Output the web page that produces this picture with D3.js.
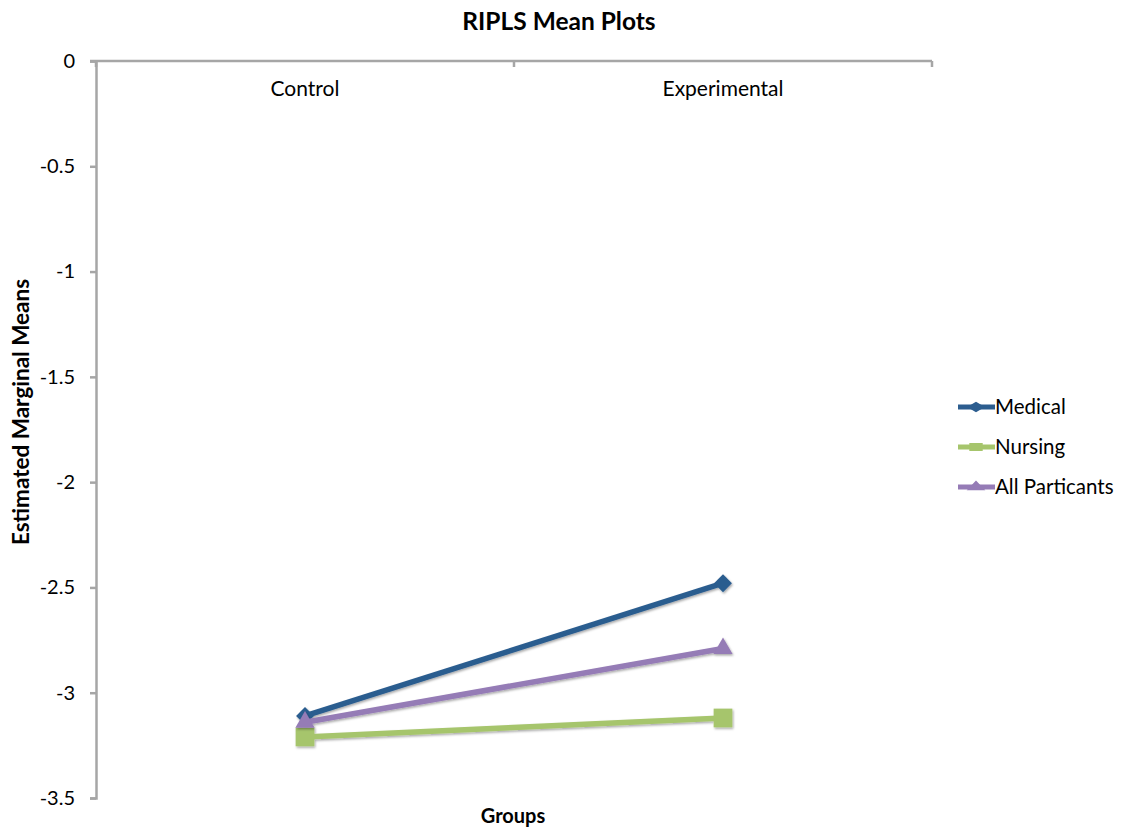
<!DOCTYPE html>
<html>
<head>
<meta charset="utf-8">
<script src="https://cdn.jsdelivr.net/npm/d3@7"></script>
<style>
  html, body { margin: 0; padding: 0; background: #fff; }
  svg { display: block; font-family: Lato, "Open Sans", "Liberation Sans", sans-serif; }
</style>
</head>
<body>
<svg id="chart" width="1125" height="831"></svg>
<script>
// Groups along the x axis
const groups = ["Control", "Experimental"];

// Estimated marginal means per series
const medical = [-3.11, -2.48];
const nursing = [-3.21, -3.12];
const allParticipants = [-3.14, -2.79];

// Y axis tick values
const yTicks = [0, -0.5, -1, -1.5, -2, -2.5, -3, -3.5];

const seriesNames = ["Medical", "Nursing", "All Particants"];
const seriesValues = [medical, nursing, allParticipants];
const seriesColors = ["#2C5D8F", "#A6C56C", "#957BB6"];

// marker shapes: rotated square (diamond), square, triangle
const markerDefs = [
  { type: d3.symbolSquare, size: 160, legendSize: 160, rotate: 45 },
  { type: d3.symbolSquare, size: 350, legendSize: 180, rotate: 0 },
  { type: d3.symbolTriangle, size: 160, legendSize: 150, rotate: 0 }
];

const svg = d3.select("#chart");
const plotLeft = 96, plotRight = 932, plotTop = 61, plotBottom = 798;

const x = d3.scaleBand().domain(groups).range([plotLeft, plotRight]);
const y = d3.scaleLinear().domain([0, -3.5]).range([plotTop, plotBottom]);

// soft drop shadow on the data marks
const defs = svg.append("defs");
const f = defs.append("filter").attr("id", "shadow")
  .attr("x", "-20%").attr("y", "-20%").attr("width", "140%").attr("height", "140%");
f.append("feDropShadow").attr("dx", 1).attr("dy", 1.5).attr("stdDeviation", 1.2)
  .attr("flood-color", "#000").attr("flood-opacity", 0.35);

const axisColor = "#A6A6A6";

// Y axis
const yAxis = svg.append("g").attr("transform", `translate(${plotLeft},0)`)
  .call(d3.axisLeft(y).tickValues(yTicks).tickSize(6).tickPadding(15)
    .tickFormat(d => String(d)));
yAxis.select(".domain").attr("stroke", axisColor).attr("stroke-width", 2.5);
yAxis.selectAll(".tick line").attr("stroke", axisColor).attr("stroke-width", 2.5);
yAxis.selectAll(".tick text").attr("fill", "#000").style("font-size", "20px")
  .style("font-family", "Lato, 'Open Sans', sans-serif");

// X axis at the top (value 0), with tick marks between categories
const xAxisG = svg.append("g").attr("transform", `translate(0,${plotTop})`);
xAxisG.append("line").attr("x1", plotLeft - 6).attr("x2", plotRight).attr("y1", 0).attr("y2", 0)
  .attr("stroke", axisColor).attr("stroke-width", 2.5);
const boundaries = [plotLeft, x(groups[1]), plotRight];
xAxisG.selectAll("line.tk").data(boundaries).enter().append("line").attr("class", "tk")
  .attr("x1", d => d).attr("x2", d => d).attr("y1", 0).attr("y2", 6)
  .attr("stroke", axisColor).attr("stroke-width", 2.5);
xAxisG.selectAll("text").data(groups).enter().append("text")
  .attr("x", d => x(d) + x.bandwidth() / 2).attr("y", 35)
  .attr("text-anchor", "middle").style("font-size", "21px").attr("fill", "#000")
  .text(d => d);

// Series lines and markers
const cx = d => x(d) + x.bandwidth() / 2;
const line = d3.line().x((v, i) => cx(groups[i])).y(v => y(v));

// green at the bottom, then blue, then purple on top
const order = [1, 0, 2];
order.forEach(si => {
  const m = markerDefs[si];
  const g = svg.append("g").attr("filter", "url(#shadow)");
  g.append("path").datum(seriesValues[si]).attr("d", line)
    .attr("fill", "none").attr("stroke", seriesColors[si]).attr("stroke-width", 5.5);
  g.selectAll("path.m").data(seriesValues[si]).enter().append("path").attr("class", "m")
    .attr("transform", (v, i) => `translate(${cx(groups[i])},${y(v)}) rotate(${m.rotate})`)
    .attr("d", d3.symbol().type(m.type).size(m.size))
    .attr("fill", seriesColors[si]);
});

// Title
svg.append("text").attr("x", 559).attr("y", 30).attr("text-anchor", "middle")
  .style("font-size", "24.5px").style("font-weight", "bold").text("RIPLS Mean Plots");

// Axis titles
svg.append("text").attr("transform", "translate(29,412) rotate(-90)")
  .attr("text-anchor", "middle").style("font-size", "22.5px").style("font-weight", "bold")
  .text("Estimated Marginal Means");
svg.append("text").attr("x", 513).attr("y", 823).attr("text-anchor", "middle")
  .style("font-size", "20px").style("font-weight", "bold").text("Groups");

// Legend: short line with a flattened marker
const legend = svg.append("g").attr("transform", "translate(958,407)");
seriesNames.forEach((name, i) => {
  const m = markerDefs[i];
  const row = legend.append("g").attr("transform", `translate(0,${i * 40})`);
  row.append("line").attr("x1", 0).attr("x2", 37).attr("y1", 0).attr("y2", 0)
    .attr("stroke", seriesColors[i]).attr("stroke-width", 5);
  row.append("path").attr("transform", `translate(18,0) scale(1,0.6) rotate(${m.rotate})`)
    .attr("d", d3.symbol().type(m.type).size(m.legendSize))
    .attr("fill", seriesColors[i]);
  row.append("text").attr("x", 37).attr("y", 7).style("font-size", "20.5px").text(name);
});
</script>
</body>
</html>
